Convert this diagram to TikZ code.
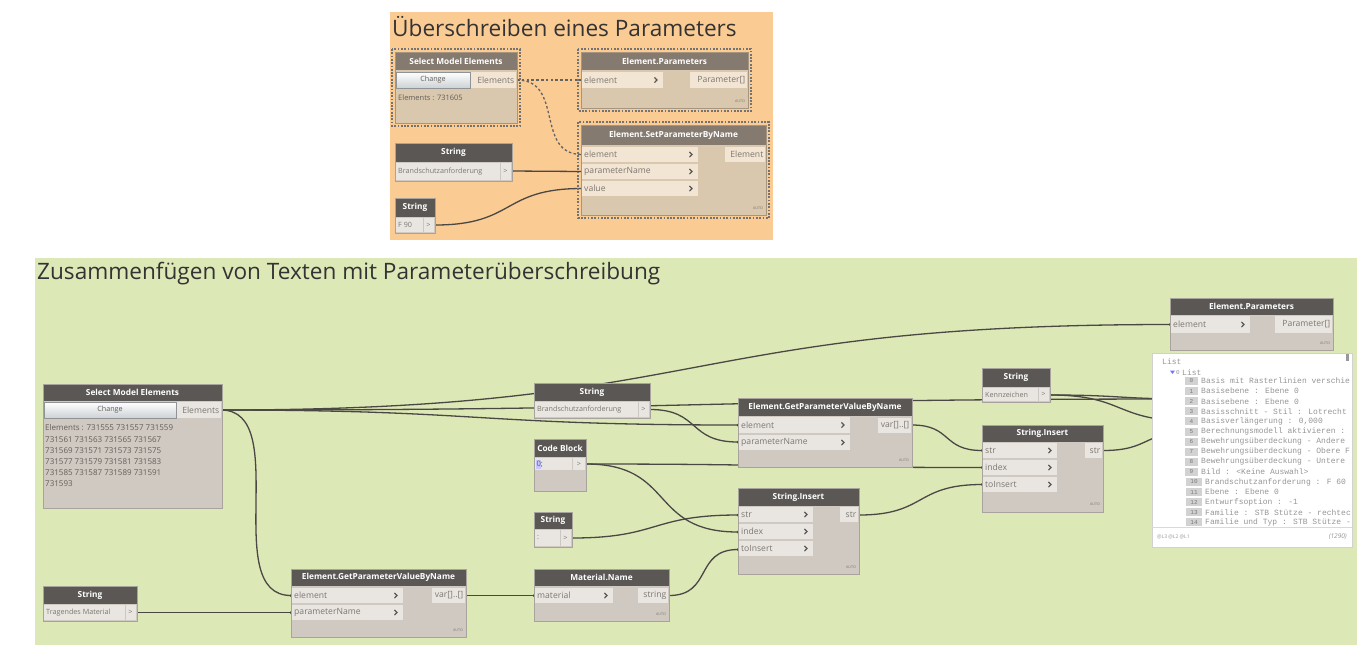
\documentclass[tikz,border=0pt]{standalone}
\usepackage{fontspec}
\setmainfont{Open Sans}
\newfontfamily\wmono{Liberation Mono}
\usetikzlibrary{calc}
\definecolor{orangebg}{HTML}{FBCB94}
\definecolor{greenbg}{HTML}{DDE8B7}
\definecolor{nrmhdr}{HTML}{5A5754}
\definecolor{nrmbody}{HTML}{D0C9C2}
\definecolor{nrmport}{HTML}{E9E6E2}
\definecolor{nrmedge}{HTML}{A9A39D}
\definecolor{selhdr}{HTML}{857A6F}
\definecolor{selbody}{HTML}{D9C7AE}
\definecolor{selport}{HTML}{F3E5D3}
\definecolor{seledge}{HTML}{A8957E}
\definecolor{wirec}{HTML}{4A4845}
\definecolor{ptextc}{HTML}{7C766F}
\definecolor{titlec}{HTML}{333333}
\definecolor{btnc}{HTML}{CDD2D5}
\definecolor{watchtxt}{HTML}{969696}
\definecolor{idxbox}{HTML}{D2D2D2}
\tikzset{
  wire/.style={draw=wirec, line width=1.3pt},
  dwire/.style={draw=wirec!85, line width=1.3pt, dash pattern=on 2.6pt off 2.2pt},
  titletxt/.style={text=titlec, font=\fontsize{22.6}{26}\selectfont, inner sep=0pt, anchor=base west},
  hdrtxt/.style={text=white, font=\bfseries\fontsize{8.3}{10}\selectfont, inner sep=0pt},
  ptxt/.style={text=ptextc, font=\fontsize{8.6}{10}\selectfont, inner sep=0pt, anchor=west},
  vtxt/.style={text=ptextc, font=\fontsize{7.2}{9}\selectfont, inner sep=0pt, anchor=west},
  listtxt/.style={text=ptextc!80!black, font=\fontsize{8}{9}\selectfont, inner sep=0pt, anchor=west},
  btntxt/.style={text=ptextc!80!black, font=\fontsize{7.2}{9}\selectfont, inner sep=0pt},
  autotxt/.style={text=ptextc, font=\fontsize{3.6}{4}\selectfont, inner sep=0pt, anchor=east},
  chev/.style={draw=nrmhdr, line width=1.2pt},
  selframe/.style={draw=black!55, line width=1.3pt, dash pattern=on 1.8pt off 1.5pt},
  wtxt/.style={text=watchtxt, font=\wmono\fontsize{8}{9}\selectfont, inner sep=0pt, anchor=west},
  widx/.style={text=watchtxt!80!black, font=\wmono\fontsize{6}{7}\selectfont, inner sep=0pt},
}
\newcommand\dynnode[8]{%
  \fill[fill=#8body] (#2,#3) rectangle (#4,#5);
  \fill[fill=#8hdr] (#2,#3) rectangle (#4,#6);
  \draw[draw=#8edge, line width=0.7pt] (#2,#3) rectangle (#4,#5);
  \node[hdrtxt] (#1) at ({(#2+#4)/2},{(#3+#6)/2}) {#7};
}
\newcommand\inrow[7]{%
  \fill[#2port] (#3,#4) rectangle (#5,#6);
  \node[ptxt] (#1) at (#3+2,{(#4+#6)/2}) {#7};
  \draw[chev] (#5-8.5,{(#4+#6)/2-2.6}) -- (#5-6,{(#4+#6)/2}) -- (#5-8.5,{(#4+#6)/2+2.6});
}
\newcommand\outrow[7]{%
  \fill[#2port] (#3,#4) rectangle (#5,#6);
  \node[ptxt,anchor=east] (#1) at (#5-1.5,{(#4+#6)/2}) {#7};
}
\newcommand\strrow[7]{%
  \fill[#2port] (#3,#4) rectangle (#5,#6);
  \draw[nrmedge!60, line width=0.5pt] (#5-11,#4) -- (#5-11,#6);
  \node[vtxt] (#1) at (#3+2,{(#4+#6)/2}) {#7};
  \node[vtxt,anchor=center] at (#5-5.5,{(#4+#6)/2}) {>};
}
\newcommand\autolbl[2]{\node[autotxt] at (#1,#2) {AUTO};}
\newcommand\dynwire[3][wire]{%
  \draw[#1] let \p1=(#2), \p2=(#3), \n1={0.5*(\x2-\x1)+0.2*abs(\y2-\y1)} in
    (#2) .. controls ({\x1+\n1},\y1) and ({\x2-\n1},\y2) .. (#3);
  \fill[wirec] (#2) circle (1.5pt) (#3) circle (1.5pt);
}
\begin{document}
\begin{tikzpicture}[x=1pt,y=-1pt]
\useasboundingbox (0,0) rectangle (1370,649);
\fill[white] (0,0) rectangle (1370,649);
% groups
\fill[orangebg] (390,12) rectangle (773,240);
\fill[greenbg] (35,258) rectangle (1357,645);
\node[titletxt] (title1) at (392,36) {Überschreiben eines Parameters};
\node[titletxt] (title2) at (37,279) {Zusammenfügen von Texten mit Parameterüberschreibung};

% ---- port coordinates (top group)
\coordinate (ts-out) at (517,80);
\coordinate (tp-in) at (582,80);
\coordinate (tset-el) at (582,154.5);
\coordinate (tset-pn) at (582,171.5);
\coordinate (tset-val) at (582,188.5);
\coordinate (tstr-out) at (512,171);
\coordinate (tf-out) at (435,225);
% ---- port coordinates (bottom group)
\coordinate (a-out) at (221,410);
\coordinate (b-out) at (137,612.5);
\coordinate (c-el) at (291,595.5);
\coordinate (c-pn) at (291,612.5);
\coordinate (c-out) at (466,595.5);
\coordinate (d-in) at (534,595.5);
\coordinate (d-out) at (669,595.5);
\coordinate (e-out) at (650,409.5);
\coordinate (f-out) at (586,464);
\coordinate (g-el) at (738,425);
\coordinate (g-pn) at (738,442);
\coordinate (g-out) at (912,425);
\coordinate (h-out) at (572,538);
\coordinate (i-str) at (738,515);
\coordinate (i-idx) at (738,532);
\coordinate (i-ti) at (738,549.5);
\coordinate (i-out) at (859,515);
\coordinate (j-out) at (1050,395);
\coordinate (k-str) at (982,450.5);
\coordinate (k-idx) at (982,467.5);
\coordinate (k-ti) at (982,484.5);
\coordinate (k-out) at (1103,450.5);
\coordinate (l-in) at (1170,324.5);
\coordinate (hA) at (1190,399);
\coordinate (hB) at (1190,421);
\coordinate (hC) at (1190,432);

% ---- wires (top)
\dynwire[dwire]{ts-out}{tp-in}
\dynwire[dwire]{ts-out}{tset-el}
\dynwire{tstr-out}{tset-pn}
\dynwire{tf-out}{tset-val}
% ---- wires (bottom)
\dynwire{a-out}{l-in}
\dynwire{a-out}{g-el}
\dynwire{a-out}{c-el}
\dynwire{a-out}{hA}
\dynwire{e-out}{g-pn}
\dynwire{f-out}{k-idx}
\dynwire{f-out}{i-idx}
\dynwire{h-out}{i-str}
\dynwire{d-out}{i-ti}
\dynwire{c-out}{d-in}
\dynwire{b-out}{c-pn}
\dynwire{g-out}{k-str}
\dynwire{i-out}{k-ti}
\dynwire{k-out}{hC}
\dynwire{j-out}{hA}
\dynwire{j-out}{hB}

% ================= top group nodes
\draw[selframe] (392,49) rectangle (520,126);
\dynnode{ts}{395}{52}{517}{123}{70}{Select Model Elements}{sel}
\shade[top color=white,bottom color=btnc] (396.5,72) rectangle (470,88);
\draw[btnc!70!black, line width=0.4pt] (396.5,72) rectangle (470,88);
\node[btntxt] (ts-btn) at (433,80) {Change};
\outrow{ts-lbl}{sel}{471}{72}{516}{88}{Elements}
\node[listtxt, font=\fontsize{7.5}{9}\selectfont] (ts-list) at (398,98) {Elements : 731605};

\draw[selframe] (578,49) rectangle (751,111);
\dynnode{tp}{581}{52}{748}{108}{70}{Element.Parameters}{sel}
\inrow{tp-r1}{sel}{582}{72}{663}{88}{element}
\outrow{tp-o}{sel}{690}{72}{747}{88}{Parameter[]}
\autolbl{745}{101}

\draw[selframe] (578,122) rectangle (769,218);
\dynnode{tset}{581}{125}{766}{215}{145}{Element.SetParameterByName}{sel}
\inrow{tset-r1}{sel}{582}{147}{698}{162}{element}
\inrow{tset-r2}{sel}{582}{164}{698}{179}{parameterName}
\inrow{tset-r3}{sel}{582}{181}{698}{196}{value}
\outrow{tset-o}{sel}{725}{147}{765}{162}{Element}
\autolbl{763}{208}

\dynnode{tstr}{395}{143}{512}{181}{162}{String}{nrm}
\strrow{tstr-v}{nrm}{396}{163}{511}{180}{Brandschutzanforderung}

\dynnode{tf}{395}{198}{435}{233}{217}{String}{nrm}
\strrow{tf-v}{nrm}{396}{218}{434}{232}{F 90}

% ================= bottom group nodes
% A Select Model Elements
\dynnode{a}{43}{384}{222}{508}{401}{Select Model Elements}{nrm}
\shade[top color=white,bottom color=btnc] (44,402) rectangle (176,418);
\draw[btnc!70!black, line width=0.4pt] (44,402) rectangle (176,418);
\node[btntxt] (a-btn) at (110,410) {Change};
\outrow{a-lbl}{nrm}{177}{402}{221}{418}{Elements}
\node[listtxt] (a-l1) at (45,428) {Elements : 731555 731557 731559};
\node[listtxt] (a-l2) at (45,439.5) {731561 731563 731565 731567};
\node[listtxt] (a-l3) at (45,450.5) {731569 731571 731573 731575};
\node[listtxt] (a-l4) at (45,461.5) {731577 731579 731581 731583};
\node[listtxt] (a-l5) at (45,472.5) {731585 731587 731589 731591};
\node[listtxt] (a-l6) at (45,483.5) {731593};

% B String Tragendes Material
\dynnode{b}{43}{586}{137}{621}{604}{String}{nrm}
\strrow{b-v}{nrm}{44}{605}{136}{620}{Tragendes Material}

% C Element.GetParameterValueByName (bottom)
\dynnode{c}{291}{569}{466}{637}{586}{Element.GetParameterValueByName}{nrm}
\inrow{c-r1}{nrm}{292}{588}{403}{603}{element}
\inrow{c-r2}{nrm}{292}{605}{403}{620}{parameterName}
\outrow{c-o}{nrm}{432}{588}{465}{603}{var[]..[]}
\autolbl{463}{630}

% D Material.Name
\dynnode{d}{534}{569}{669}{621}{586}{Material.Name}{nrm}
\inrow{d-r1}{nrm}{535}{588}{613}{603}{material}
\outrow{d-o}{nrm}{638}{588}{668}{603}{string}
\autolbl{666}{614}

% E String Brandschutzanforderung
\dynnode{e}{534}{383}{650}{418}{401}{String}{nrm}
\strrow{e-v}{nrm}{535}{402}{649}{417}{Brandschutzanforderung}

% F Code Block
\dynnode{f}{534}{439}{586}{491}{457}{Code Block}{nrm}
\fill[nrmport] (535,458) rectangle (572,470);
\fill[nrmport] (573,458) rectangle (585,470);
\fill[blue!22] (536,459.5) rectangle (540.8,468.5);
\node[vtxt, text=black!65, font=\fontsize{7.6}{9}\selectfont] (f-code) at (536.3,464) {0;};
\node[vtxt, anchor=center] at (579,464) {>};

% G Element.GetParameterValueByName (middle)
\dynnode{g}{738}{398}{912}{467}{416}{Element.GetParameterValueByName}{nrm}
\inrow{g-r1}{nrm}{739}{417}{850}{433}{element}
\inrow{g-r2}{nrm}{739}{435}{850}{450}{parameterName}
\outrow{g-o}{nrm}{878}{418}{911}{433}{var[]..[]}
\autolbl{909}{460}

% H String ":"
\dynnode{h}{534}{512}{572}{547}{529}{String}{nrm}
\strrow{h-v}{nrm}{535}{530}{571}{546}{:}

% I String.Insert (middle)
\dynnode{i}{738}{488}{859}{574}{506}{String.Insert}{nrm}
\inrow{i-r1}{nrm}{739}{507}{813}{522}{str}
\inrow{i-r2}{nrm}{739}{524}{813}{539}{index}
\inrow{i-r3}{nrm}{739}{541}{813}{556}{toInsert}
\outrow{i-o}{nrm}{840}{507}{858}{522}{str}
\autolbl{856}{567}

% J String Kennzeichen
\dynnode{j}{982}{368}{1050}{402}{387}{String}{nrm}
\strrow{j-v}{nrm}{983}{388}{1049}{401}{Kennzeichen}

% K String.Insert (right)
\dynnode{k}{982}{425}{1103}{512}{442}{String.Insert}{nrm}
\inrow{k-r1}{nrm}{983}{443}{1057}{458}{str}
\inrow{k-r2}{nrm}{983}{460}{1057}{475}{index}
\inrow{k-r3}{nrm}{983}{477}{1057}{492}{toInsert}
\outrow{k-o}{nrm}{1085}{443}{1102}{458}{str}
\autolbl{1100}{504}

% L Element.Parameters (right)
\dynnode{l}{1170}{298}{1333}{350}{315}{Element.Parameters}{nrm}
\inrow{l-r1}{nrm}{1171}{316}{1250}{333}{element}
\outrow{l-o}{nrm}{1275}{316}{1332}{333}{Parameter[]}
\autolbl{1330}{343}

% M watch / preview
\fill[white] (1152,353) rectangle (1352,547);
\draw[black!18, line width=0.6pt] (1152,353) rectangle (1352,547);
\draw[black!15, line width=0.6pt] (1152,527) -- (1352,527);
\fill[black!40] (1346,354) rectangle (1349,361);
\node[wtxt] (m-list) at (1162,362) {List};
\fill[blue!55] (1170,370.5) -- (1175,370.5) -- (1172.5,374) -- cycle;
\node[wtxt, font=\wmono\fontsize{6}{7}\selectfont] (m-0) at (1176,372.5) {0};
\node[wtxt] (m-list2) at (1182,372.5) {List};
\foreach \i/\t in {0/{Basis mit Rasterlinien verschie},
  1/{Basisebene : Ebene 0},
  2/{Basisebene : Ebene 0},
  3/{Basisschnitt - Stil : Lotrecht},
  4/{Basisverlängerung : 0,000},
  5/{Berechnungsmodell aktivieren :},
  6/{Bewehrungsüberdeckung - Andere},
  7/{Bewehrungsüberdeckung - Obere F},
  8/{Bewehrungsüberdeckung - Untere},
  9/{Bild : <Keine Auswahl>}}{
  \fill[idxbox] (1185,{381+10.1*\i-4}) rectangle (1198,{381+10.1*\i+4});
  \node[widx] at (1191.5,{381+10.1*\i}) {\i};
  \node[wtxt] at (1201,{381+10.1*\i}) {\t};
}
\foreach \i/\t in {10/{Brandschutzanforderung : F 60},
  11/{Ebene : Ebene 0},
  12/{Entwurfsoption : -1},
  13/{Familie : STB Stütze - rechtec},
  14/{Familie und Typ : STB Stütze -}}{
  \fill[idxbox] (1186,{381+10.1*\i-4}) rectangle (1202,{381+10.1*\i+4});
  \node[widx] at (1194,{381+10.1*\i}) {\i};
  \node[wtxt] at (1205,{381+10.1*\i}) {\t};
}
\node[wtxt, font=\fontsize{5}{6}\selectfont] (m-lv) at (1157,537) {@L3 @L2 @L1};
\node[wtxt, anchor=east, font=\itshape\fontsize{6.5}{8}\selectfont] (m-cnt) at (1347,537) {(1290)};
\end{tikzpicture}
\end{document}
